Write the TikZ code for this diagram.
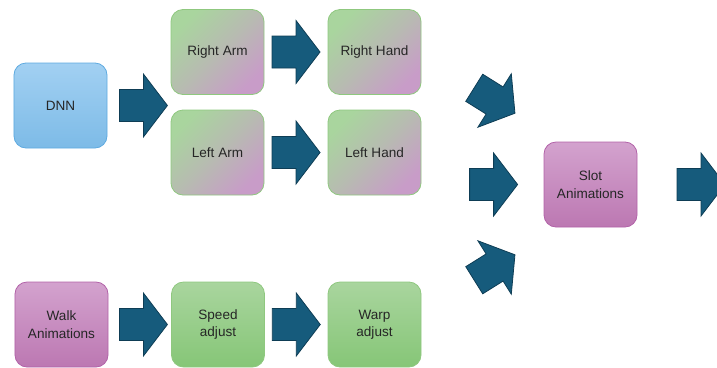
\documentclass[tikz,border=0pt]{standalone}
\usepackage{fontspec}
\setmainfont{Liberation Sans}
\usetikzlibrary{calc}
\definecolor{txt}{HTML}{262626}
\definecolor{arrfill}{HTML}{165B7C}
\definecolor{arrline}{HTML}{0E3D55}
\definecolor{bluetop}{HTML}{A2D0F2}
\definecolor{bluebot}{HTML}{7DBBE7}
\definecolor{blueline}{HTML}{5EAAE0}
\definecolor{greentop}{HTML}{A9D59E}
\definecolor{greenbot}{HTML}{86C677}
\definecolor{greenline}{HTML}{8FC87F}
\definecolor{pinktop}{HTML}{D3A2CE}
\definecolor{pinkbot}{HTML}{BC78B2}
\definecolor{pinkline}{HTML}{B262A8}
\definecolor{mixpink}{HTML}{C89CC8}
\tikzset{
  box/.style={rounded corners=12bp, minimum width=93bp, minimum height=85bp,
    inner sep=2bp, align=center, text=txt, font=\fontsize{13.6}{17.5}\selectfont, line width=0.8bp},
  bluebox/.style={box, draw=blueline, top color=bluetop, bottom color=bluebot},
  greenbox/.style={box, draw=greenline, top color=greentop, bottom color=greenbot},
  pinkbox/.style={box, draw=pinkline, top color=pinktop, bottom color=pinkbot},
  mixbox/.style={box, draw=greenline, top color=greentop, bottom color=mixpink, middle color=greentop!55!mixpink, shading angle=45},
  blockarrow/.style={fill=arrfill, draw=arrline, line width=0.8bp, line join=miter},
}
\newcommand\barrow[2]{%
  \draw[blockarrow, shift={#1}, rotate=#2]
    (-24,-16) -- (0,-16) -- (0,-31.5) -- (24,0) -- (0,31.5) -- (0,16) -- (-24,16) -- cycle;}
\begin{document}
\begin{tikzpicture}[x=1bp,y=-1bp]
\useasboundingbox (0,0) rectangle (717,367);
\clip (0,0) rectangle (717,367);
\node[bluebox] (dnn) at (60.5,105.5) {DNN};
\node[mixbox] (ra) at (217.5,52) {Right Arm};
\node[mixbox] (rh) at (374.5,52) {Right Hand};
\node[mixbox] (la) at (217.5,152.5) {Left Arm};
\node[mixbox] (lh) at (374.5,152.5) {Left Hand};
\node[pinkbox] (walk) at (61.5,324.5) {Walk\\Animations};
\node[greenbox] (speed) at (218,324.5) {Speed\\adjust};
\node[greenbox] (warp) at (374.5,324.5) {Warp\\adjust};
\node[pinkbox] (slot) at (590.5,184.5) {Slot\\Animations};
\coordinate (out) at (701,184.5);
\barrow{($(dnn.east)+(36,0)$)}{0}
\barrow{($(ra.east)!0.5!(rh.west)$)}{0}
\barrow{($(la.east)!0.5!(lh.west)$)}{0}
\barrow{($(walk.east)+(35,0)$)}{0}
\barrow{($(speed.east)!0.5!(warp.west)$)}{0}
\barrow{($(slot.west)+(-50,0)$)}{0}
\barrow{($(slot.west)+(-49,-84)$)}{-32}
\barrow{($(slot.west)+(-49,83)$)}{32}
\barrow{(out)}{0}
\end{tikzpicture}
\end{document}
